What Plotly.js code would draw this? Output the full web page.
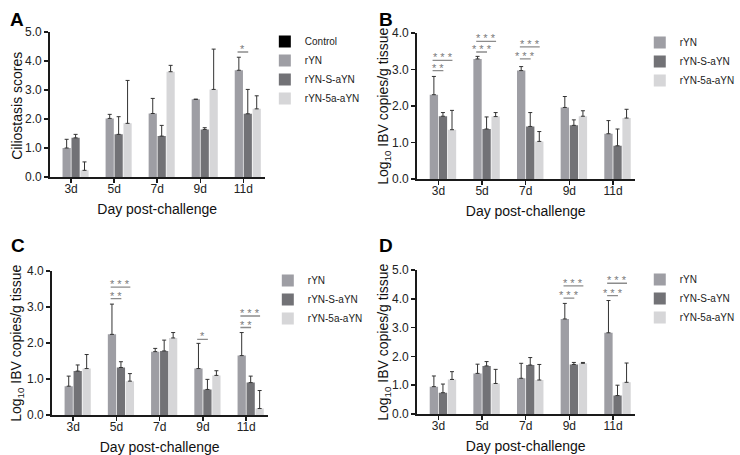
<!DOCTYPE html>
<html>
<head>
<meta charset="utf-8">
<script src="https://cdn.plot.ly/plotly-3.0.1.min.js"></script>
<style>html,body{margin:0;padding:0;background:#fff}#chart{width:740px;height:455px}</style>
</head>
<body>
<div id="chart"></div>
<script>
// ---- data ----
const days = ['3d', '5d', '7d', '9d', '11d'];
const groupNames = ['Control', 'rYN', 'rYN-S-aYN', 'rYN-5a-aYN'];

// Panel A: ciliostasis scores
const aControl = [0, 0, 0, 0, 0];
const aRYN = [1.0, 2.02, 2.19, 2.68, 3.68];
const aRYNsd = [0.30, 0.14, 0.52, 0.0, 0.45];
const aS = [1.35, 1.47, 1.41, 1.64, 2.18];
const aSsd = [0.12, 0.61, 0.37, 0.06, 0.84];
const a5a = [0.23, 1.85, 3.63, 3.02, 2.35];
const a5asd = [0.29, 1.48, 0.22, 1.39, 0.45];

// Panel B: Log10 IBV copies/g tissue
const bRYN = [2.31, 3.29, 2.97, 1.96, 1.24];
const bRYNsd = [0.50, 0.07, 0.11, 0.30, 0.36];
const bS = [1.72, 1.37, 1.44, 1.47, 0.91];
const bSsd = [0.10, 0.33, 0.38, 0.15, 0.46];
const b5a = [1.35, 1.71, 1.03, 1.72, 1.67];
const b5asd = [0.53, 0.11, 0.27, 0.15, 0.24];

// Panel C
const cRYN = [0.80, 2.24, 1.76, 1.29, 1.65];
const cRYNsd = [0.28, 0.84, 0.09, 0.70, 0.64];
const cS = [1.22, 1.32, 1.78, 0.71, 0.90];
const cSsd = [0.17, 0.16, 0.30, 0.28, 0.18];
const c5a = [1.29, 0.94, 2.14, 1.10, 0.18];
const c5asd = [0.39, 0.21, 0.15, 0.13, 0.50];

// Panel D
const dRYN = [0.95, 1.41, 1.24, 3.30, 2.82];
const dRYNsd = [0.37, 0.32, 0.52, 0.54, 1.12];
const dS = [0.74, 1.67, 1.70, 1.72, 0.64];
const dSsd = [0.30, 0.15, 0.26, 0.07, 0.36];
const d5a = [1.20, 1.06, 1.18, 1.76, 1.10];
const d5asd = [0.27, 0.49, 0.54, 0.03, 0.67];

// significance marks: panel, day index, compared group (2 = rYN-S-aYN, 3 = rYN-5a-aYN), bar height, label
const sigPanel = ['A', 'B', 'B', 'B', 'B', 'B', 'B', 'C', 'C', 'C', 'C', 'C', 'D', 'D', 'D', 'D'];
const sigDay   = [4, 0, 0, 1, 1, 2, 2, 1, 1, 3, 4, 4, 3, 3, 4, 4];
const sigGroup = [2, 2, 3, 2, 3, 2, 3, 2, 3, 2, 2, 3, 2, 3, 2, 3];
const sigLevel = [4.31, 2.97, 3.25, 3.48, 3.77, 3.29, 3.62, 3.23, 3.55, 2.10, 2.43, 2.75, 4.02, 4.45, 4.11, 4.54];
const sigText  = ['*', '* *', '* * *', '* * *', '* * *', '* * *', '* * *', '* *', '* * *', '*', '* *', '* * *', '* * *', '* * *', '* * *', '* * *'];

// ---- styling ----
const colors = ['#000000', '#9e9ea4', '#727276', '#d6d6d8'];
const FONT = 'Liberation Sans, Arial, sans-serif';
const panels = {
  A: {xa: 'x', ya: 'y', leg: 'legend', vals: [aControl, aRYN, aS, a5a], sds: [null, aRYNsd, aSsd, a5asd], showControl: true},
  B: {xa: 'x2', ya: 'y2', leg: 'legend2', vals: [aControl, bRYN, bS, b5a], sds: [null, bRYNsd, bSsd, b5asd], showControl: false},
  C: {xa: 'x3', ya: 'y3', leg: 'legend3', vals: [aControl, cRYN, cS, c5a], sds: [null, cRYNsd, cSsd, c5asd], showControl: false},
  D: {xa: 'x4', ya: 'y4', leg: 'legend4', vals: [aControl, dRYN, dS, d5a], sds: [null, dRYNsd, dSsd, d5asd], showControl: false}
};

const traces = [];
Object.keys(panels).forEach(function (k) {
  const p = panels[k];
  for (let g = 0; g < 4; g++) {
    const t = {
      type: 'bar', x: days, y: p.vals[g], name: groupNames[g],
      xaxis: p.xa, yaxis: p.ya, legend: p.leg,
      marker: {color: colors[g], line: {width: 0}},
      showlegend: g === 0 ? p.showControl : true,
      hoverinfo: 'skip'
    };
    if (p.sds[g]) {
      t.error_y = {type: 'data', symmetric: false, array: p.sds[g], arrayminus: p.sds[g].map(function () { return 0; }),
                   color: '#333', thickness: 1, width: 2};
    }
    traces.push(t);
  }
});

const bargap = 0.17;
const slot = (1 - bargap) / 4;
const barCenter = function (g) { return (g - 1.5) * slot; };

const shapes = [];
const annotations = [];
for (let i = 0; i < sigPanel.length; i++) {
  const p = panels[sigPanel[i]];
  const x0 = sigDay[i] + barCenter(1) - 0.03;
  const x1 = sigDay[i] + barCenter(sigGroup[i]) + 0.01;
  shapes.push({type: 'line', xref: p.xa, yref: p.ya, x0: x0, x1: x1, y0: sigLevel[i], y1: sigLevel[i],
               line: {color: '#8c8c8c', width: 1.3}});
  annotations.push({xref: p.xa, yref: p.ya, x: (x0 + x1) / 2, y: sigLevel[i], text: sigText[i],
                    showarrow: false, yanchor: 'bottom', yshift: -5,
                    font: {family: FONT, size: 11, color: '#7a7a7a'}});
}

const letters = [['A', 8, 7], ['B', 380, 7], ['C', 9, 233], ['D', 380, 233]];
letters.forEach(function (l) {
  annotations.push({xref: 'paper', yref: 'paper', x: l[1] / 740, y: 1 - l[2] / 455, xanchor: 'left', yanchor: 'top',
                    text: '<b>' + l[0] + '</b>', showarrow: false, font: {family: FONT, size: 19, color: '#000'}});
});

// y-axis titles (placed as rotated text beside each axis)
const logTitle = 'Log<sub>10</sub> IBV copies/g tissue';
const yTitles = [['Ciliostasis scores', 17, 106], [logTitle, 387, 106], [logTitle, 17, 343], [logTitle, 387, 342]];
yTitles.forEach(function (t) {
  annotations.push({xref: 'paper', yref: 'paper', x: t[1] / 740, y: 1 - t[2] / 455, xanchor: 'center', yanchor: 'middle',
                    text: t[0], textangle: -90, showarrow: false, font: {family: FONT, size: 14, color: '#111'}});
});

function xAxis(d0, d1, anchor) {
  return {domain: [d0 / 740, d1 / 740], anchor: anchor, type: 'category', range: [-0.5, 4.5],
          showline: true, linecolor: '#1a1a1a', linewidth: 1.5, ticks: 'outside', ticklen: 4, tickwidth: 1.5,
          tickcolor: '#1a1a1a', showgrid: false, zeroline: false, ticklabelstandoff: -4,
          tickfont: {family: FONT, size: 12, color: '#222'},
          title: {text: 'Day post-challenge', font: {family: FONT, size: 14, color: '#111'}, standoff: 9}};
}
function yAxis(top, bottom, anchor, max) {
  return {domain: [1 - bottom / 455, 1 - top / 455], anchor: anchor, range: [0, max], dtick: 1, tickformat: '.1f',
          showline: true, linecolor: '#1a1a1a', linewidth: 1.5, ticks: 'outside', ticklen: 4, tickwidth: 1.5,
          tickcolor: '#1a1a1a', showgrid: false, zeroline: false,
          tickfont: {family: FONT, size: 12, color: '#222'}};
}
function legendAt(px, py) {
  return {x: px / 740, y: 1 - py / 455, xanchor: 'left', yanchor: 'top', bgcolor: 'rgba(0,0,0,0)',
          font: {family: FONT, size: 10, color: '#222'}, tracegroupgap: 0, itemclick: false, traceorder: 'normal'};
}

const layout = {
  width: 740, height: 455, margin: {l: 0, r: 0, t: 0, b: 0},
  paper_bgcolor: '#fff', plot_bgcolor: '#fff',
  barmode: 'group', bargap: bargap, bargroupgap: 0.08,
  font: {family: FONT},
  xaxis: xAxis(50, 267, 'y'),
  yaxis: yAxis(32, 177, 'x', 5),
  xaxis2: xAxis(420, 640, 'y2'),
  yaxis2: yAxis(33, 179, 'x2', 4),
  xaxis3: xAxis(52, 270, 'y3'),
  yaxis3: yAxis(271, 415, 'x3', 4),
  xaxis4: xAxis(420, 640, 'y4'),
  yaxis4: yAxis(270, 414, 'x4', 5),
  legend: legendAt(267, 27),
  legend2: legendAt(645, 28),
  legend3: legendAt(270, 266),
  legend4: legendAt(645, 265),
  shapes: shapes,
  annotations: annotations
};

Plotly.newPlot('chart', traces, layout, {displayModeBar: false, staticPlot: true});
</script>
</body>
</html>
